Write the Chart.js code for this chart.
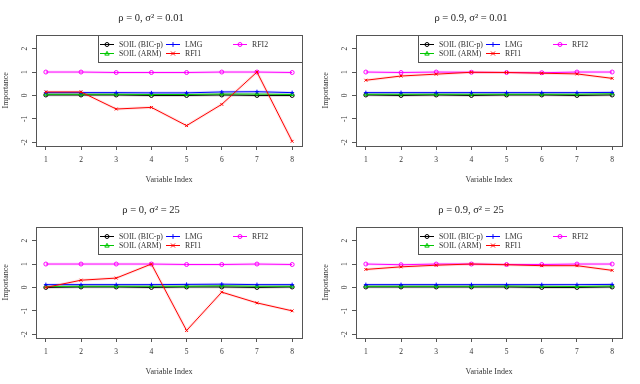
<!DOCTYPE html>
<html>
<head>
<meta charset="utf-8">
<script src="https://cdn.jsdelivr.net/npm/chart.js@4.4.0/dist/chart.umd.min.js"></script>
<style>
html, body { margin: 0; padding: 0; background: #fff; }
#grid { width: 640px; height: 384px; display: grid; grid-template-columns: 320px 320px; grid-template-rows: 192px 192px; }
canvas { display: block; }
</style>
</head>
<body>
<div id="grid">
  <canvas id="c1" width="320" height="192"></canvas>
  <canvas id="c2" width="320" height="192"></canvas>
  <canvas id="c3" width="320" height="192"></canvas>
  <canvas id="c4" width="320" height="192"></canvas>
</div>
<script>
const varIndex = [1, 2, 3, 4, 5, 6, 7, 8];
const yTicks = [-2, -1, 0, 1, 2];
const seriesNames = ["SOIL (BIC-p)", "SOIL (ARM)", "LMG", "RFI1", "RFI2"];
const seriesColors = ["#000000", "#00c800", "#0000ff", "#ff0000", "#ff00ff"];
const seriesHalo = ["rgba(0,0,0,0.13)", "rgba(0,200,0,0.13)", "rgba(0,0,255,0.13)", "rgba(255,0,0,0.1)", "rgba(255,0,255,0.13)"];
const seriesPoints = ["circle", "triangle", "cross", "crossRot", "circle"];
const panelTitles = ["\u03c1 = 0, \u03c3\u00b2 = 0.01", "\u03c1 = 0.9, \u03c3\u00b2 = 0.01", "\u03c1 = 0, \u03c3\u00b2 = 25", "\u03c1 = 0.9, \u03c3\u00b2 = 25"];

// rho = 0, sigma^2 = 0.01
const soilBic1 = [0.02, 0.02, 0.02, 0.0, 0.0, 0.02, 0.0, 0.0];
const soilArm1 = [0.05, 0.05, 0.05, 0.04, 0.04, 0.06, 0.06, 0.04];
const lmg1 = [0.12, 0.12, 0.12, 0.11, 0.11, 0.15, 0.16, 0.12];
const rfi1a = [0.15, 0.15, -0.58, -0.51, -1.29, -0.38, 1.0, -1.96];
const rfi2a = [1.0, 1.0, 0.98, 0.98, 0.98, 1.0, 1.0, 0.98];

// rho = 0.9, sigma^2 = 0.01
const soilBic2 = [0.02, 0.0, 0.02, 0.0, 0.02, 0.02, 0.0, 0.02];
const soilArm2 = [0.05, 0.05, 0.05, 0.05, 0.05, 0.05, 0.05, 0.07];
const lmg2 = [0.12, 0.12, 0.12, 0.12, 0.12, 0.12, 0.12, 0.13];
const rfi1b = [0.65, 0.83, 0.91, 0.99, 0.98, 0.95, 0.92, 0.73];
const rfi2b = [1.0, 0.98, 1.0, 0.99, 0.98, 0.97, 1.0, 1.0];

// rho = 0, sigma^2 = 25
const soilBic3 = [0.0, 0.02, 0.02, 0.0, 0.02, 0.02, 0.0, 0.02];
const soilArm3 = [0.04, 0.05, 0.05, 0.05, 0.05, 0.07, 0.05, 0.05];
const lmg3 = [0.12, 0.12, 0.12, 0.12, 0.13, 0.14, 0.12, 0.12];
const rfi1c = [0.0, 0.31, 0.4, 1.0, -1.84, -0.2, -0.66, -1.0];
const rfi2c = [1.0, 1.0, 1.0, 1.0, 0.98, 0.98, 1.0, 0.98];

// rho = 0.9, sigma^2 = 25
const soilBic4 = [0.02, 0.02, 0.02, 0.02, 0.02, 0.0, 0.0, 0.02];
const soilArm4 = [0.05, 0.05, 0.05, 0.05, 0.06, 0.05, 0.04, 0.06];
const lmg4 = [0.12, 0.12, 0.12, 0.12, 0.12, 0.12, 0.12, 0.13];
const rfi1d = [0.77, 0.88, 0.95, 1.0, 0.97, 0.93, 0.93, 0.73];
const rfi2d = [1.0, 0.97, 1.0, 1.0, 0.98, 0.98, 1.0, 1.0];

const panelSeries = [
  [soilBic1, soilArm1, lmg1, rfi1a, rfi2a],
  [soilBic2, soilArm2, lmg2, rfi1b, rfi2b],
  [soilBic3, soilArm3, lmg3, rfi1c, rfi2c],
  [soilBic4, soilArm4, lmg4, rfi1d, rfi2d]
];

const serif = "'Liberation Serif', 'DejaVu Serif', serif";

function drawMarker(ctx, style, x, y, r, color) {
  ctx.strokeStyle = color;
  ctx.lineWidth = 1;
  ctx.beginPath();
  if (style === "circle") {
    ctx.arc(x, y, r, 0, Math.PI * 2);
  } else if (style === "triangle") {
    ctx.moveTo(x, y - r * 1.1);
    ctx.lineTo(x + r * 1.1, y + r * 0.8);
    ctx.lineTo(x - r * 1.1, y + r * 0.8);
    ctx.closePath();
  } else if (style === "cross") {
    ctx.moveTo(x - r * 1.2, y); ctx.lineTo(x + r * 1.2, y);
    ctx.moveTo(x, y - r * 1.2); ctx.lineTo(x, y + r * 1.2);
  } else {
    ctx.moveTo(x - r, y - r); ctx.lineTo(x + r, y + r);
    ctx.moveTo(x + r, y - r); ctx.lineTo(x - r, y + r);
  }
  ctx.stroke();
}

// box round the plot region, like R's box()
const frameBox = {
  id: "frameBox",
  beforeDatasetsDraw(chart) {
    const { ctx, chartArea: a } = chart;
    ctx.save();
    ctx.strokeStyle = "#555";
    ctx.lineWidth = 1;
    ctx.strokeRect(Math.round(a.left) + 0.5, Math.round(a.top) + 0.5, Math.round(a.right - a.left), Math.round(a.bottom - a.top));
    ctx.restore();
  }
};

// legend in the top right corner, laid out in columns
const legendBox = {
  id: "legendBox",
  afterDatasetsDraw(chart) {
    const { ctx, chartArea: a } = chart;
    const x0 = Math.round(a.left) + 62, y0 = Math.round(a.top);
    const w = Math.round(a.right) - x0, h = 27;
    ctx.save();
    ctx.fillStyle = "#fff";
    ctx.fillRect(x0, y0, w, h);
    ctx.strokeStyle = "#555";
    ctx.lineWidth = 1;
    ctx.strokeRect(x0 + 0.5, y0 + 0.5, w, h);
    const cols = [x0 + 2, x0 + 68, x0 + 135];
    seriesNames.forEach((name, i) => {
      const lx = cols[Math.floor(i / 2)];
      const ly = y0 + 9.5 + (i % 2) * 9;
      ctx.strokeStyle = seriesColors[i];
      ctx.beginPath();
      ctx.moveTo(lx, ly);
      ctx.lineTo(lx + 14, ly);
      ctx.stroke();
      drawMarker(ctx, seriesPoints[i], lx + 7, ly, 2, seriesColors[i]);
      ctx.fillStyle = "#333";
      ctx.font = "7.8px " + serif;
      ctx.textBaseline = "middle";
      ctx.fillText(name, lx + 19, ly);
    });
    ctx.restore();
  }
};

function makeChart(canvasId, title, values) {
  const main = values.map((data, i) => ({
    label: seriesNames[i],
    data: data,
    borderColor: seriesColors[i],
    backgroundColor: "transparent",
    borderWidth: 1,
    pointStyle: seriesPoints[i],
    pointRadius: 2,
    pointBorderColor: seriesColors[i],
    pointBorderWidth: 1,
    tension: 0
  }));
  const halos = values.map((data, i) => ({
    label: seriesNames[i] + " band",
    data: data,
    borderColor: seriesHalo[i],
    borderWidth: 3,
    pointRadius: 0,
    tension: 0
  }));

  return new Chart(document.getElementById(canvasId), {
    type: "line",
    data: {
      labels: varIndex,
      datasets: [main[3], main[4], main[2], main[1], main[0]].concat(halos)
    },
    options: {
      responsive: false,
      animation: false,
      layout: { padding: { top: 0, right: 18, bottom: 0, left: 0 } },
      plugins: {
        legend: { display: false },
        tooltip: { enabled: false },
        title: {
          display: true,
          text: title,
          color: "#222",
          font: { family: serif, size: 10.5, weight: "normal" },
          padding: { top: 12, bottom: 10 }
        }
      },
      scales: {
        x: {
          type: "linear",
          min: 0.72,
          max: 8.28,
          afterBuildTicks: (scale) => { scale.ticks = varIndex.map(v => ({ value: v })); },
          afterFit: (scale) => { scale.height = 46; },
          border: { display: false },
          grid: { drawOnChartArea: false, drawTicks: true, tickLength: 4, color: "#555" },
          ticks: { color: "#333", font: { family: serif, size: 7.5 }, padding: 6, maxRotation: 0 },
          title: { display: true, text: "Variable Index", color: "#333", font: { family: serif, size: 8 }, padding: { top: 0, bottom: 7 } }
        },
        y: {
          min: -2.16,
          max: 2.6,
          afterBuildTicks: (scale) => { scale.ticks = yTicks.map(v => ({ value: v })); },
          afterFit: (scale) => { scale.width = 36; },
          border: { display: false },
          grid: { drawOnChartArea: false, drawTicks: true, tickLength: 4, color: "#555" },
          ticks: { color: "#333", font: { family: serif, size: 7.5 }, padding: 4, minRotation: 90, maxRotation: 90, crossAlign: "center" },
          title: { display: true, text: "Importance", color: "#333", font: { family: serif, size: 8 }, padding: { top: 1, bottom: 0 } }
        }
      }
    },
    plugins: [frameBox, legendBox]
  });
}

panelTitles.forEach((t, i) => makeChart("c" + (i + 1), t, panelSeries[i]));
</script>
</body>
</html>
